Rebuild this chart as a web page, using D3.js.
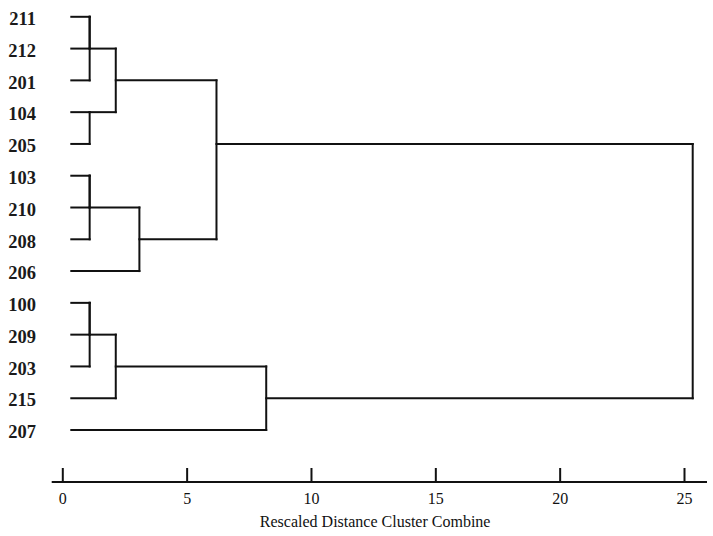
<!DOCTYPE html>
<html>
<head>
<meta charset="utf-8">
<script src="https://cdn.jsdelivr.net/npm/d3@7"></script>
<style>
  html, body { margin: 0; padding: 0; background: #fff; }
  svg { display: block; }
</style>
</head>
<body>
<svg id="chart" width="713" height="536"></svg>
<script>
// Leaf order (top to bottom)
const leaves = ["211","212","201","104","205","103","210","208","206","100","209","203","215","207"];
// Merge steps: [node id, child A, child B, rescaled distance]
const mergeIds    = ["n1","n2","n3","n4","n5","n6","n7","n8","n9","n10","n11","n12","n13"];
const mergeLeft   = ["211","n1","104","n2","103","n5","n6","n4","100","n9","n10","n11","n8"];
const mergeRight  = ["212","201","205","n3","210","208","206","n7","209","203","215","207","n12"];
const mergeDist   = [1.1, 1.1, 1.1, 2.15, 1.1, 1.1, 3.1, 6.2, 1.1, 1.1, 2.15, 8.2, 25.35];
const xTicks = [0, 5, 10, 15, 20, 25];
const xTitle = "Rescaled Distance Cluster Combine";

const svg = d3.select("#chart");
const W = 713, H = 536;

const x = d3.scaleLinear().domain([0, 25]).range([62.3, 684]);
const y = d3.scalePoint().domain(leaves).range([16.8, 430]);
const rowStep = y.step();

// node positions: row index and distance
const nodes = {};
leaves.forEach((l, i) => { nodes[l] = { row: i, dist: null }; });
mergeIds.forEach((id, i) => {
  const a = nodes[mergeLeft[i]], b = nodes[mergeRight[i]];
  nodes[id] = { row: Math.floor((a.row + b.row) / 2), dist: mergeDist[i] };
});
const rowY = r => y.range()[0] + r * rowStep;
const leafStartX = x(0) + 9;

const g = svg.append("g")
  .attr("fill", "none")
  .attr("stroke", "#111")
  .attr("stroke-width", 2)
  .attr("stroke-linecap", "square");

mergeIds.forEach((id, i) => {
  const d = mergeDist[i];
  [mergeLeft[i], mergeRight[i]].forEach(c => {
    const n = nodes[c];
    const x0 = n.dist === null ? leafStartX : x(n.dist);
    g.append("line")
      .attr("x1", x0).attr("x2", x(d))
      .attr("y1", rowY(n.row)).attr("y2", rowY(n.row));
  });
  g.append("line")
    .attr("x1", x(d)).attr("x2", x(d))
    .attr("y1", rowY(nodes[mergeLeft[i]].row))
    .attr("y2", rowY(nodes[mergeRight[i]].row));
});

// leaf labels
svg.append("g").selectAll("text")
  .data(leaves)
  .join("text")
  .attr("x", 36)
  .attr("y", d => y(d) + 1.8)
  .attr("dy", "0.35em")
  .attr("text-anchor", "end")
  .attr("font-family", "'Liberation Serif', 'Times New Roman', serif")
  .attr("font-size", 18.5)
  .attr("font-weight", "bold")
  .attr("fill", "#1a1a1a")
  .text(d => d);

// axis
const axisY = 482;
svg.append("line")
  .attr("x1", x.range()[0] - 10.6).attr("x2", W - 6)
  .attr("y1", axisY).attr("y2", axisY)
  .attr("stroke", "#111").attr("stroke-width", 2);

const axis = d3.axisBottom(x).tickValues(xTicks).tickSize(-14).tickPadding(11);
const ax = svg.append("g").attr("transform", `translate(0,${axisY})`).call(axis);
ax.select(".domain").remove();
ax.selectAll(".tick line").attr("stroke", "#111").attr("stroke-width", 2);
ax.selectAll(".tick text")
  .attr("font-family", "'Liberation Serif', 'Times New Roman', serif")
  .attr("font-size", 16)
  .attr("fill", "#111");

svg.append("text")
  .attr("x", (x(0) + x(25)) / 2 + 2)
  .attr("y", 521)
  .attr("dy", "0.35em")
  .attr("text-anchor", "middle")
  .attr("font-family", "'Liberation Serif', 'Times New Roman', serif")
  .attr("font-size", 16)
  .attr("fill", "#111")
  .text(xTitle);
</script>
</body>
</html>
